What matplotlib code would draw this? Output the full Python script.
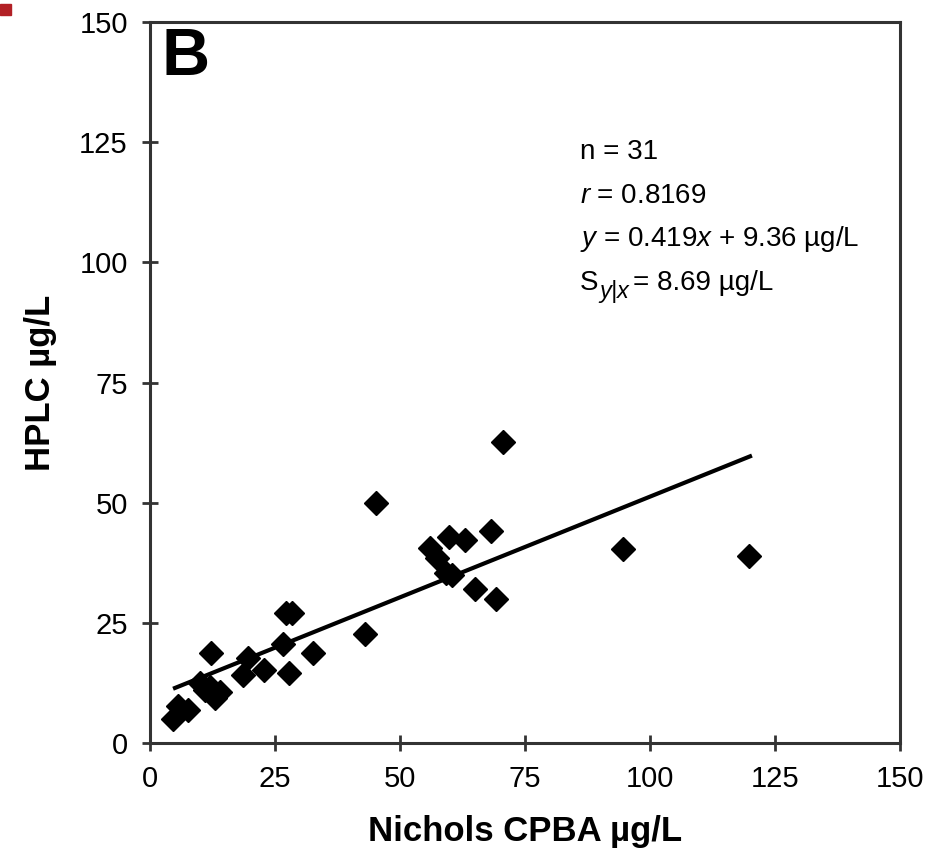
import matplotlib.pyplot as plt
import matplotlib.patches as mpatches
import numpy as np

plt.rcParams['font.family'] = ['Liberation Sans', 'DejaVu Sans']
plt.rcParams['mathtext.fontset'] = 'custom'
plt.rcParams['mathtext.rm'] = 'Liberation Sans'
plt.rcParams['mathtext.it'] = 'Liberation Sans:italic'

# Nichols CPBA (x) vs HPLC (y), ug/L
nichols = [70.6, 45.2, 94.6, 119.8, 43.0, 68.1, 59.8, 63.0, 56.0, 57.3,
           59.2, 60.4, 65.0, 69.1, 27.3, 28.5, 26.7, 19.7, 12.3, 32.7,
           22.8, 18.7, 27.9, 10.0, 12.0, 14.0, 13.0, 11.0, 5.7, 7.7, 4.7]
hplc = [62.6, 49.9, 40.4, 38.9, 22.7, 44.1, 42.9, 42.2, 40.6, 38.5,
        35.4, 35.0, 32.0, 30.0, 27.0, 27.0, 20.7, 17.6, 18.7, 18.7,
        15.2, 14.1, 14.5, 12.5, 11.6, 10.6, 9.4, 11.0, 7.6, 6.9, 5.1]
slope, intercept = 0.419, 9.36
fit_x = [5, 120]

stats_lines = ["n = 31", "$r$ = 0.8169", "$y$ = 0.419$x$ + 9.36 µg/L"]

fig = plt.figure(figsize=(9.27, 8.67), dpi=100)
ax = fig.add_axes([0.1618, 0.1430, 0.8091, 0.8316])

ax.plot(nichols, hplc, 'D', color='black', markersize=12)
fx = np.array(fit_x)
ax.plot(fx, slope * fx + intercept, color='black', linewidth=3)

ax.set_xlim(0, 150)
ax.set_ylim(0, 150)
ax.set_xticks(range(0, 151, 25))
ax.set_yticks(range(0, 151, 25))
ax.tick_params(direction='inout', length=12, width=2, labelsize=21,
               color='#333333', pad=10)
for s in ax.spines.values():
    s.set_linewidth(2.2)
    s.set_color('#333333')

ax.set_xlabel("Nichols CPBA µg/L", fontsize=25, fontweight='bold', labelpad=16)
ax.set_ylabel("HPLC µg/L", fontsize=25, fontweight='bold', labelpad=16)

ax.text(2.3, 149, "B", fontsize=48, fontweight='bold', va='top')

fs = 20
for i, line in enumerate(stats_lines):
    ax.text(86, 123 - i * 9.1, line, fontsize=fs, va='center')

# S with a full-ish size italic subscript y|x
r = fig.canvas.get_renderer()
t = ax.text(86, 123 - 3 * 9.1, "S", fontsize=fs, va='center')
bb = t.get_window_extent(r)
sub = ax.annotate("y|x", xy=(bb.x1, bb.y0), xycoords='figure pixels',
                  xytext=(0.5, -5), textcoords='offset points',
                  fontsize=17, style='italic', va='bottom')
bb2 = sub.get_window_extent(r)
ax.annotate("= 8.69 µg/L", xy=(bb2.x1, bb.y0 + bb.height / 2),
            xycoords='figure pixels', xytext=(3, 0), textcoords='offset points',
            fontsize=fs, va='center')

fig.patches.append(mpatches.Rectangle((0, 1 - 15 / 867), 11 / 927, 11 / 867,
                                      transform=fig.transFigure,
                                      color='#b22025'))

fig.savefig('out.png', dpi=100)
